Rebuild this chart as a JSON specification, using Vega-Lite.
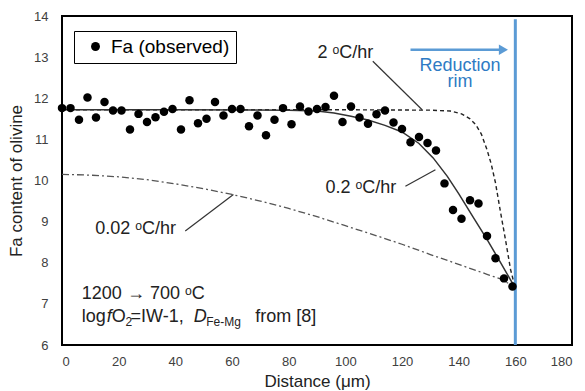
{
  "$schema": "https://vega.github.io/schema/vega-lite/v6.json",
  "width": 510,
  "height": 329,
  "autosize": {"type": "none"},
  "padding": {"left": 62, "top": 16, "right": 13, "bottom": 46},
  "background": "white",
  "config": {
    "font": "Liberation Sans",
    "view": {"stroke": "black", "strokeWidth": 2},
    "axis": {"grid": false, "ticks": false, "domain": false, "labelFont": "Liberation Sans", "titleFont": "Liberation Sans", "labelColor": "#404040", "titleColor": "#222222", "titleFontWeight": "normal", "labelFontSize": 13, "titleFontSize": 17}
  },
  "datasets": {
    "obs": [
      {"x": 0, "y": 11.76}, {"x": 3, "y": 11.76}, {"x": 6, "y": 11.48}, {"x": 9, "y": 12.02},
      {"x": 12, "y": 11.53}, {"x": 15, "y": 11.91}, {"x": 18, "y": 11.70}, {"x": 21, "y": 11.70},
      {"x": 24, "y": 11.24}, {"x": 27, "y": 11.62}, {"x": 30, "y": 11.42}, {"x": 33, "y": 11.54},
      {"x": 36, "y": 11.67}, {"x": 39, "y": 11.74}, {"x": 42, "y": 11.24}, {"x": 45, "y": 11.95},
      {"x": 48, "y": 11.39}, {"x": 51, "y": 11.50}, {"x": 54, "y": 11.91}, {"x": 57, "y": 11.58},
      {"x": 60, "y": 11.74}, {"x": 63, "y": 11.74}, {"x": 66, "y": 11.32}, {"x": 69, "y": 11.58},
      {"x": 72, "y": 11.10}, {"x": 75, "y": 11.48}, {"x": 78, "y": 11.76}, {"x": 81, "y": 11.37},
      {"x": 84, "y": 11.80}, {"x": 87, "y": 11.68}, {"x": 90, "y": 11.74}, {"x": 93, "y": 11.79},
      {"x": 96, "y": 12.06}, {"x": 99, "y": 11.42}, {"x": 102, "y": 11.80}, {"x": 105, "y": 11.53},
      {"x": 108, "y": 11.38}, {"x": 111, "y": 11.61}, {"x": 114, "y": 11.70}, {"x": 117, "y": 11.41},
      {"x": 120, "y": 11.25}, {"x": 123, "y": 10.93}, {"x": 126, "y": 11.06}, {"x": 129, "y": 10.91},
      {"x": 132, "y": 10.73}, {"x": 135, "y": 9.93}, {"x": 138, "y": 9.28}, {"x": 141, "y": 9.07},
      {"x": 144, "y": 9.52}, {"x": 147, "y": 9.44}, {"x": 150, "y": 8.65}, {"x": 153, "y": 8.11},
      {"x": 156, "y": 7.62}, {"x": 159, "y": 7.42}
    ],
    "c02": [
      {"x": 0, "y": 11.72}, {"x": 40, "y": 11.72}, {"x": 80, "y": 11.71}, {"x": 90, "y": 11.69},
      {"x": 96, "y": 11.64}, {"x": 102, "y": 11.56}, {"x": 108, "y": 11.47}, {"x": 114, "y": 11.34},
      {"x": 120, "y": 11.18}, {"x": 126, "y": 10.9}, {"x": 131, "y": 10.55}, {"x": 136, "y": 10.1},
      {"x": 140, "y": 9.68}, {"x": 145, "y": 9.12}, {"x": 150, "y": 8.57}, {"x": 155, "y": 7.98},
      {"x": 160, "y": 7.38}
    ],
    "c2": [
      {"x": 0, "y": 11.72}, {"x": 100, "y": 11.72}, {"x": 130, "y": 11.71}, {"x": 137, "y": 11.69},
      {"x": 141, "y": 11.62}, {"x": 144, "y": 11.5}, {"x": 146, "y": 11.36}, {"x": 148, "y": 11.13},
      {"x": 150, "y": 10.75}, {"x": 151.5, "y": 10.4}, {"x": 153, "y": 9.94}, {"x": 154.8, "y": 9.22},
      {"x": 156.5, "y": 8.57}, {"x": 158.3, "y": 7.84}, {"x": 160, "y": 7.38}
    ],
    "c002": [
      {"x": 0, "y": 10.15}, {"x": 10, "y": 10.13}, {"x": 20, "y": 10.09}, {"x": 30, "y": 10.02},
      {"x": 40, "y": 9.92}, {"x": 50, "y": 9.8}, {"x": 60, "y": 9.66}, {"x": 70, "y": 9.5},
      {"x": 80, "y": 9.32}, {"x": 90, "y": 9.12}, {"x": 100, "y": 8.9}, {"x": 110, "y": 8.68},
      {"x": 120, "y": 8.45}, {"x": 130, "y": 8.2}, {"x": 140, "y": 7.96}, {"x": 150, "y": 7.72},
      {"x": 155, "y": 7.6}, {"x": 160, "y": 7.4}
    ],
    "leaders": [
      {"x": 109.7, "y": 12.9, "x2": 127.1, "y2": 11.72},
      {"x": 121.2, "y": 9.86, "x2": 131.8, "y2": 10.26},
      {"x": 43.5, "y": 8.77, "x2": 60.5, "y2": 9.66}
    ],
    "clabels": [
      {"x": 100, "y": 13.1, "t": "2 ᵒC/hr"},
      {"x": 105.5, "y": 9.81, "t": "0.2 ᵒC/hr"},
      {"x": 26, "y": 8.81, "t": "0.02 ᵒC/hr"}
    ],
    "llabels": [
      {"x": 7, "y": 7.24, "t": "1200 → 700 ᵒC"},
      {"x": 7, "y": 6.68, "t": "log"},
      {"x": 17.6, "y": 6.68, "t": "O"},
      {"x": 24.2, "y": 6.68, "t": "=IW-1,"},
      {"x": 68.2, "y": 6.68, "t": "from [8]"}
    ],
    "italic": [
      {"x": 15.8, "y": 6.68, "t": "f"},
      {"x": 46.5, "y": 6.68, "t": "D"}
    ],
    "subs": [
      {"x": 22.4, "y": 6.56, "t": "2"},
      {"x": 50.9, "y": 6.56, "t": "Fe-Mg"}
    ],
    "rim": [{"x": 160, "y": 13.92, "y2": 6}],
    "arrow": [{"x": 123, "x2": 155, "y": 13.18}],
    "arrowhead": [{"x": 155.8, "y": 13.18}],
    "rimtext": [{"x": 140.5, "y": 12.79, "t": "Reduction\nrim"}]
  },
  "layer": [
    {
      "data": {"name": "c002"},
      "mark": {"type": "line", "color": "#555555", "strokeWidth": 1.3, "strokeDash": [7, 3, 2, 3]},
      "encoding": {
        "x": {"field": "x", "type": "quantitative", "scale": {"domain": [0, 180], "nice": false}, "axis": {"values": [0, 20, 40, 60, 80, 100, 120, 140, 160, 180], "title": "Distance (μm)", "labelPadding": 10, "titlePadding": 5}},
        "y": {"field": "y", "type": "quantitative", "scale": {"domain": [6, 14], "nice": false, "zero": false}, "axis": {"values": [6, 7, 8, 9, 10, 11, 12, 13, 14], "title": "Fa content of olivine", "labelPadding": 14, "titlePadding": 8}}
      }
    },
    {
      "data": {"name": "c2"},
      "mark": {"type": "line", "color": "#222222", "strokeWidth": 1.4, "strokeDash": [4, 3]},
      "encoding": {"x": {"field": "x", "type": "quantitative"}, "y": {"field": "y", "type": "quantitative"}}
    },
    {
      "data": {"name": "c02"},
      "mark": {"type": "line", "color": "#333333", "strokeWidth": 1.5},
      "encoding": {"x": {"field": "x", "type": "quantitative"}, "y": {"field": "y", "type": "quantitative"}}
    },
    {
      "data": {"name": "rim"},
      "mark": {"type": "rule", "color": "#5B9BD5", "strokeWidth": 3},
      "encoding": {"x": {"field": "x", "type": "quantitative"}, "y": {"field": "y", "type": "quantitative"}, "y2": {"field": "y2"}}
    },
    {
      "data": {"name": "arrow"},
      "mark": {"type": "rule", "color": "#5B9BD5", "strokeWidth": 2.5},
      "encoding": {"x": {"field": "x", "type": "quantitative"}, "x2": {"field": "x2"}, "y": {"field": "y", "type": "quantitative"}}
    },
    {
      "data": {"name": "arrowhead"},
      "mark": {"type": "point", "shape": "triangle-right", "filled": true, "color": "#5B9BD5", "size": 110, "opacity": 1},
      "encoding": {"x": {"field": "x", "type": "quantitative"}, "y": {"field": "y", "type": "quantitative"}}
    },
    {
      "data": {"name": "leaders"},
      "mark": {"type": "rule", "color": "#333333", "strokeWidth": 1.2},
      "encoding": {"x": {"field": "x", "type": "quantitative"}, "y": {"field": "y", "type": "quantitative"}, "x2": {"field": "x2"}, "y2": {"field": "y2"}}
    },
    {
      "data": {"name": "obs"},
      "mark": {"type": "point", "filled": true, "size": 72, "opacity": 1},
      "encoding": {
        "x": {"field": "x", "type": "quantitative"},
        "y": {"field": "y", "type": "quantitative"},
        "color": {"datum": "Fa (observed)", "type": "nominal", "scale": {"range": ["black"]},
          "legend": {"title": null, "orient": "none", "legendX": 12, "legendY": 15, "strokeColor": "black", "fillColor": "white", "padding": 6, "labelFontSize": 19, "labelColor": "black", "labelFont": "Liberation Sans", "symbolSize": 80, "symbolType": "circle", "symbolOffset": 6, "labelOffset": 6}}
      }
    },
    {
      "data": {"name": "clabels"},
      "mark": {"type": "text", "fontSize": 18, "color": "#222222", "baseline": "middle", "align": "center"},
      "encoding": {"x": {"field": "x", "type": "quantitative"}, "y": {"field": "y", "type": "quantitative"}, "text": {"field": "t"}}
    },
    {
      "data": {"name": "llabels"},
      "mark": {"type": "text", "fontSize": 18, "color": "#222222", "baseline": "middle", "align": "left"},
      "encoding": {"x": {"field": "x", "type": "quantitative"}, "y": {"field": "y", "type": "quantitative"}, "text": {"field": "t"}}
    },
    {
      "data": {"name": "italic"},
      "mark": {"type": "text", "fontSize": 18, "fontStyle": "italic", "color": "#222222", "baseline": "middle", "align": "left"},
      "encoding": {"x": {"field": "x", "type": "quantitative"}, "y": {"field": "y", "type": "quantitative"}, "text": {"field": "t"}}
    },
    {
      "data": {"name": "subs"},
      "mark": {"type": "text", "fontSize": 12, "color": "#222222", "baseline": "middle", "align": "left"},
      "encoding": {"x": {"field": "x", "type": "quantitative"}, "y": {"field": "y", "type": "quantitative"}, "text": {"field": "t"}}
    },
    {
      "data": {"name": "rimtext"},
      "mark": {"type": "text", "fontSize": 18, "color": "#2E7BC4", "baseline": "middle", "align": "center", "lineBreak": "\n", "lineHeight": 16},
      "encoding": {"x": {"field": "x", "type": "quantitative"}, "y": {"field": "y", "type": "quantitative"}, "text": {"field": "t"}}
    }
  ]
}
